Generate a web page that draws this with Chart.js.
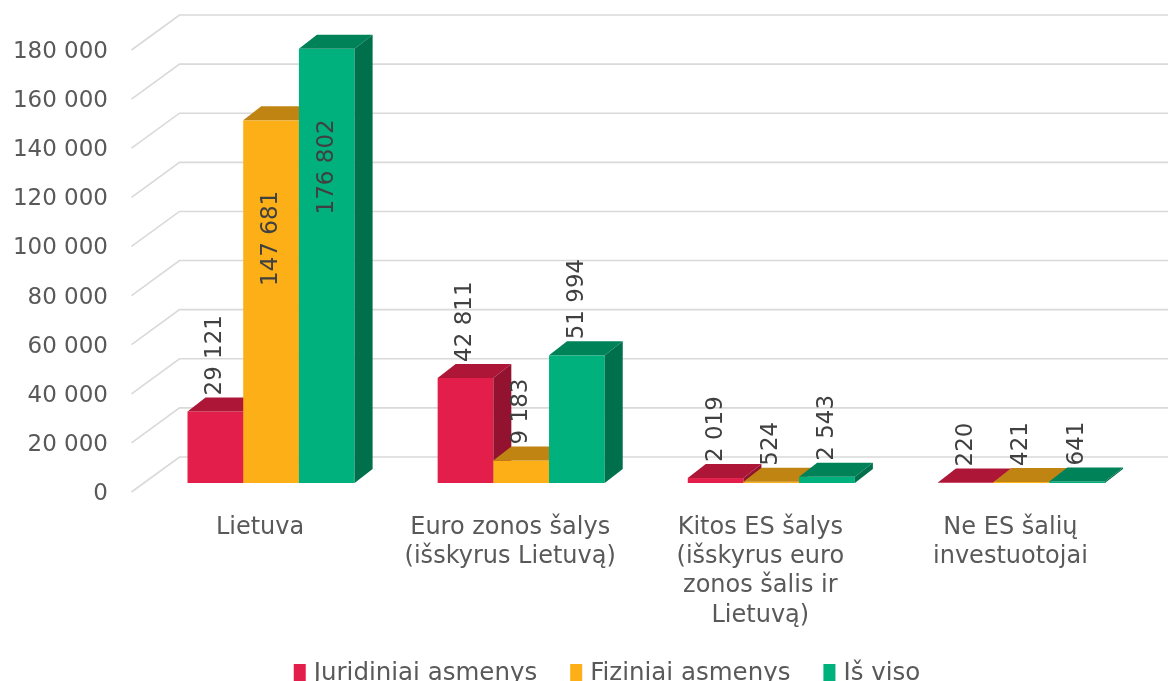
<!DOCTYPE html>
<html>
<head>
<meta charset="utf-8">
<script src="https://cdn.jsdelivr.net/npm/chart.js@4.4.1/dist/chart.umd.min.js"></script>
<style>
  html, body { margin: 0; padding: 0; background: #fff; }
  #wrap { width: 1168px; height: 681px; }
</style>
</head>
<body>
<div id="wrap"><canvas id="chart"></canvas></div>
<script>
// Data
const categories = [
    'Lietuva',
    ['Euro zonos šalys', '(išskyrus Lietuvą)'],
    ['Kitos ES šalys', '(išskyrus euro', 'zonos šalis ir', 'Lietuvą)'],
    ['Ne ES šalių', 'investuotojai']
];
const juridiniai = [29121, 42811, 2019, 220];
const fiziniai = [147681, 9183, 524, 421];
const isViso = [176802, 51994, 2543, 641];
const seriesNames = ['Juridiniai asmenys', 'Fiziniai asmenys', 'Iš viso'];

// Face colours: front, top, side
const shades = [
    { front: '#E41E4A', top: '#AE1638', side: '#92122F' },
    { front: '#FCAF17', top: '#C08412', side: '#A6720F' },
    { front: '#00B07D', top: '#008259', side: '#00704C' }
];

const FONT = 'DejaVu Sans, Verdana, sans-serif';
const depthX = 18, depthY = 14;

function fmt(v) {
    return String(v).replace(/\B(?=(\d{3})+(?!\d))/g, ' ');
}

// Draws the 3D walls, bars, rotated value labels and the legend
const bars3d = {
    id: 'bars3d',
    beforeDatasetsDraw(chart) {
        const ctx = chart.ctx;
        const y = chart.scales.y;
        const area = chart.chartArea;
        const frontX = area.left - 14.5, backX = area.left + 33.5;
        ctx.save();
        ctx.strokeStyle = '#D9D9D9';
        ctx.lineWidth = 1.6;
        y.ticks.forEach(t => {
            const py = y.getPixelForValue(t.value);
            ctx.beginPath();
            ctx.moveTo(frontX, py + 9);
            ctx.lineTo(backX, py - 26);
            ctx.lineTo(chart.width, py - 26);
            ctx.stroke();
        });
        ctx.restore();
    },
    beforeDatasetDraw() {
        return false;
    },
    afterDatasetsDraw(chart) {
        const ctx = chart.ctx;
        const area = chart.chartArea;
        ctx.save();
        const n = chart.data.labels.length;
        for (let i = 0; i < n; i++) {
            chart.data.datasets.forEach((ds, d) => {
                const bar = chart.getDatasetMeta(d).data[i];
                const c = shades[d];
                const l = bar.x - bar.width / 2, r = bar.x + bar.width / 2;
                const top = bar.y, base = bar.base;
                // front
                ctx.fillStyle = c.front;
                ctx.fillRect(l, top, r - l, base - top);
                // top face
                ctx.fillStyle = c.top;
                ctx.beginPath();
                ctx.moveTo(l, top);
                ctx.lineTo(l + depthX, top - depthY);
                ctx.lineTo(r + depthX, top - depthY);
                ctx.lineTo(r, top);
                ctx.closePath();
                ctx.fill();
                // side face
                ctx.fillStyle = c.side;
                ctx.beginPath();
                ctx.moveTo(r, top);
                ctx.lineTo(r + depthX, top - depthY);
                ctx.lineTo(r + depthX, base - depthY);
                ctx.lineTo(r, base);
                ctx.closePath();
                ctx.fill();
            });
        }
        // value labels
        ctx.font = '23px ' + FONT;
        ctx.fillStyle = '#404040';
        ctx.textBaseline = 'middle';
        chart.data.datasets.forEach((ds, d) => {
            chart.getDatasetMeta(d).data.forEach((bar, i) => {
                const txt = fmt(ds.data[i]);
                const w = ctx.measureText(txt).width;
                ctx.save();
                const start = bar.y - 16;
                if (start - w < area.top) {
                    ctx.translate(bar.x, bar.y + 118);
                    ctx.rotate(-Math.PI / 2);
                    ctx.textAlign = 'center';
                } else {
                    ctx.translate(bar.x, start);
                    ctx.rotate(-Math.PI / 2);
                    ctx.textAlign = 'left';
                }
                ctx.fillText(txt, 0, 0);
                ctx.restore();
            });
        });
        ctx.restore();
    },
    afterDraw(chart) {
        // legend along the bottom edge
        const ctx = chart.ctx;
        ctx.save();
        ctx.font = '24.5px ' + FONT;
        ctx.textBaseline = 'middle';
        ctx.textAlign = 'left';
        const items = chart.data.datasets.map(ds => ({
            text: ds.label, color: ds.backgroundColor, w: ctx.measureText(ds.label).width
        }));
        const boxW = 12, boxGap = 8, itemGap = 33;
        const total = items.reduce((s, it) => s + boxW + boxGap + it.w, 0) + itemGap * (items.length - 1);
        let x = 607 - total / 2;
        const cy = 674;
        items.forEach(it => {
            ctx.fillStyle = it.color;
            ctx.fillRect(x, cy - 10, boxW, 20);
            ctx.fillStyle = '#595959';
            ctx.fillText(it.text, x + boxW + boxGap, cy);
            x += boxW + boxGap + it.w + itemGap;
        });
        ctx.restore();
    }
};

const values = [juridiniai, fiziniai, isViso];

new Chart(document.getElementById('chart'), {
    type: 'bar',
    data: {
        labels: categories,
        datasets: values.map((v, d) => ({
            label: seriesNames[d],
            data: v,
            backgroundColor: shades[d].front,
            borderWidth: 0,
            barPercentage: 1,
            categoryPercentage: 0.668
        }))
    },
    options: {
        responsive: true,
        maintainAspectRatio: false,
        animation: false,
        layout: {
            padding: { top: 41, left: 0, right: 21.5, bottom: 0 }
        },
        plugins: {
            tooltip: { enabled: false },
            legend: { display: false }
        },
        scales: {
            x: {
                grid: { display: false, drawTicks: false },
                border: { display: false },
                ticks: {
                    color: '#595959',
                    font: { family: FONT, size: 24, lineHeight: 1.22 },
                    padding: 30,
                    labelOffset: -11,
                    maxRotation: 0,
                    autoSkip: false
                },
                afterFit(scale) { scale.height = 198; }
            },
            y: {
                min: 0,
                max: 180000,
                grid: { display: false, drawTicks: false },
                border: { display: false },
                ticks: {
                    stepSize: 20000,
                    color: '#595959',
                    font: { family: FONT, size: 23 },
                    padding: 38,
                    labelOffset: 11,
                    callback: v => fmt(v)
                },
                afterFit(scale) {
                    scale.width = 146;
                    scale.paddingTop = 0;
                    scale.paddingBottom = 0;
                }
            }
        }
    },
    plugins: [bars3d]
});
</script>
</body>
</html>
